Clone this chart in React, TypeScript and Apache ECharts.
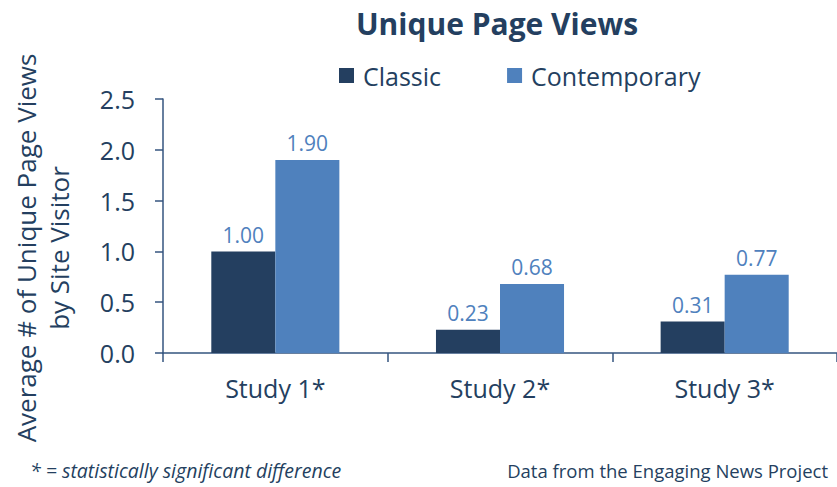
import React, { useEffect, useRef } from "react";
import * as echarts from "echarts";

const categories = ["Study 1*", "Study 2*", "Study 3*"];
const classicValues = [1.0, 0.23, 0.31];
const contemporaryValues = [1.9, 0.68, 0.77];
const seriesNames = ["Classic", "Contemporary"];
const yTicks = { min: 0, max: 2.5, interval: 0.5 };

const FONT = "'Open Sans', sans-serif";
const DARK = "#243F60";
const LIGHT = "#4F81BD";
const AXIS = "#34557F";

export default function App() {
  const ref = useRef<HTMLDivElement>(null);
  useEffect(() => {
    if (!ref.current) return;
    const chart = echarts.init(ref.current, undefined, { renderer: "svg" });
    chart.setOption({
      animation: false,
      textStyle: { fontFamily: FONT },
      legend: {
        left: 339,
        top: 63,
        padding: 0,
        itemWidth: 15,
        itemHeight: 15,
        itemGap: 66,
        icon: "rect",
        data: seriesNames,
        textStyle: { fontFamily: FONT, fontSize: 25, color: DARK, padding: [0, 0, 0, 4] },
      },
      grid: { left: 163, top: 99, width: 675, bottom: 134 },
      xAxis: {
        type: "category",
        data: categories,
        axisLine: { lineStyle: { color: AXIS, width: 1.5 } },
        axisTick: { show: true, length: 9, lineStyle: { color: AXIS, width: 1.5 } },
        axisLabel: { fontFamily: FONT, fontSize: 25, color: DARK, margin: 22 },
      },
      yAxis: {
        type: "value",
        min: yTicks.min,
        max: yTicks.max,
        interval: yTicks.interval,
        axisLine: { show: true, lineStyle: { color: AXIS, width: 1.5 } },
        axisTick: { show: true, length: 8, lineStyle: { color: AXIS, width: 1.5 } },
        splitLine: { show: false },
        axisLabel: {
          fontFamily: FONT,
          fontSize: 25,
          color: DARK,
          margin: 28,
          formatter: (v: number) => v.toFixed(1),
        },
      },
      series: [
        {
          name: seriesNames[0],
          type: "bar",
          data: classicValues,
          itemStyle: { color: DARK },
          barGap: "0%",
          barCategoryGap: "43%",
          label: {
            show: true,
            position: "top",
            distance: 6,
            fontFamily: FONT,
            fontSize: 21,
            color: LIGHT,
            formatter: (p: any) => Number(p.value).toFixed(2),
          },
        },
        {
          name: seriesNames[1],
          type: "bar",
          data: contemporaryValues,
          itemStyle: { color: LIGHT },
          barGap: "0%",
          barCategoryGap: "43%",
          label: {
            show: true,
            position: "top",
            distance: 6,
            fontFamily: FONT,
            fontSize: 21,
            color: LIGHT,
            formatter: (p: any) => Number(p.value).toFixed(2),
          },
        },
      ],
      graphic: [
        {
          type: "text",
          x: 497,
          y: 23,
          style: {
            text: "Unique Page Views",
            fontFamily: FONT,
            fontSize: 30,
            fontWeight: "bold",
            fill: DARK,
            textAlign: "center",
            textVerticalAlign: "middle",
          },
        },
        {
          type: "text",
          x: 42,
          y: 248,
          rotation: Math.PI / 2,
          style: {
            text: "Average # of Unique Page Views\nby Site Visitor",
            fontFamily: FONT,
            fontSize: 26,
            lineHeight: 33,
            fill: DARK,
            textAlign: "center",
            textVerticalAlign: "middle",
          },
        },
        {
          type: "text",
          x: 30,
          y: 470,
          style: {
            text: "* = statistically significant difference",
            fontFamily: FONT,
            fontSize: 19.5,
            fontStyle: "italic",
            fill: DARK,
            textAlign: "left",
            textVerticalAlign: "middle",
          },
        },
        {
          type: "text",
          x: 828,
          y: 470,
          style: {
            text: "Data from the Engaging News Project",
            fontFamily: FONT,
            fontSize: 18.5,
            fill: DARK,
            textAlign: "right",
            textVerticalAlign: "middle",
          },
        },
      ],
    });
    return () => chart.dispose();
  }, []);
  return <div ref={ref} style={{ width: 837, height: 487, position: "absolute", left: 0, top: 0 }} />;
}
